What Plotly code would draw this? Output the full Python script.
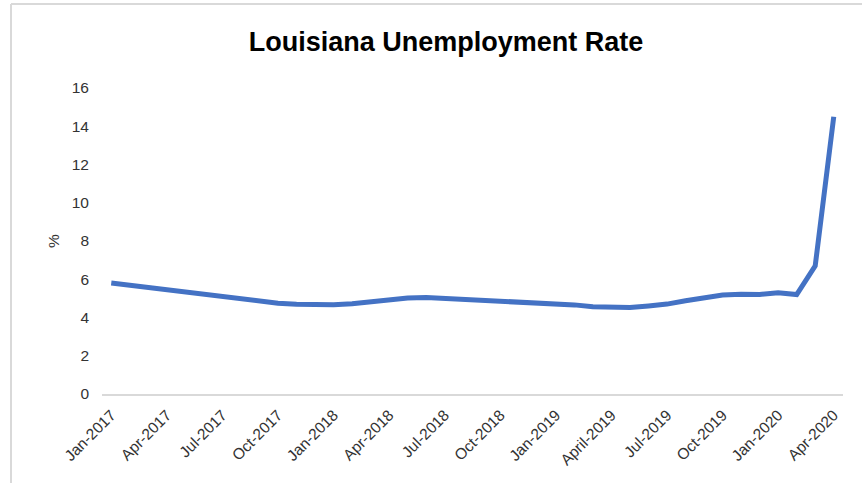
import plotly.graph_objects as go

months = []
for yr in (2017, 2018, 2019, 2020):
    for m in ["Jan", "Feb", "Mar", "Apr", "May", "Jun", "Jul", "Aug", "Sep", "Oct", "Nov", "Dec"]:
        months.append(f"{m}-{yr}")
months = months[:40]  # Jan-2017 .. Apr-2020

rate = [5.80, 5.68, 5.56, 5.44, 5.32, 5.20, 5.08, 4.95, 4.85, 4.75, 4.69, 4.66,
        4.67, 4.72, 4.82, 4.93, 5.02, 5.04, 5.00, 4.95, 4.92, 4.88, 4.84, 4.79,
        4.74, 4.66, 4.56, 4.51, 4.52, 4.60, 4.70, 4.88, 5.05, 5.18, 5.21, 5.20,
        5.30, 5.20, 6.70, 14.50]

tick_vals = months[::3]
tick_text = ["Jan-2017", "Apr-2017", "Jul-2017", "Oct-2017", "Jan-2018", "Apr-2018",
             "Jul-2018", "Oct-2018", "Jan-2019", "April-2019", "Jul-2019", "Oct-2019",
             "Jan-2020", "Apr-2020"]
y_ticks = [0, 2, 4, 6, 8, 10, 12, 14, 16]

W, H = 862, 483
L, R, T, B = 102, 19, 88, 89
pw, ph = W - L - R, H - T - B

def px_x(x):
    return (x - L) / pw

def px_y(y):
    return (H - B - y) / ph

fig = go.Figure()
fig.add_trace(go.Scatter(
    x=months, y=rate, mode="lines",
    line=dict(color="#4472C4", width=5),
    hoverinfo="x+y", showlegend=False,
))

border = "#d9d9d9"
fig.add_shape(type="line", xref="paper", yref="paper",
              x0=px_x(11), x1=px_x(870), y0=px_y(4), y1=px_y(4),
              line=dict(color=border, width=2))
fig.add_shape(type="line", xref="paper", yref="paper",
              x0=px_x(11), x1=px_x(11), y0=px_y(4), y1=px_y(490),
              line=dict(color=border, width=2))

fig.update_layout(
    width=W, height=H,
    margin=dict(l=L, r=R, t=T, b=B),
    paper_bgcolor="white", plot_bgcolor="white",
    font=dict(family="Liberation Sans, Arial, sans-serif", size=15, color="#333333"),
    title=dict(text="<b>Louisiana Unemployment Rate</b>",
               font=dict(size=27, color="#000000", family="Liberation Sans, Arial, sans-serif"),
               x=446 / W, xanchor="center", xref="container",
               y=1 - 42 / H, yanchor="middle", yref="container"),
    xaxis=dict(type="category", categoryorder="array", categoryarray=months,
               range=[-0.5, 39.5],
               tickmode="array", tickvals=tick_vals, ticktext=tick_text,
               tickangle=-45, showgrid=False, zeroline=False,
               showline=True, linecolor="#d9d9d9", linewidth=2,
               ticks="", ticklabelstandoff=4,
               tickfont=dict(size=15.5, color="#333333")),
    yaxis=dict(range=[0, 16], tickmode="array", tickvals=y_ticks,
               showgrid=False, zeroline=False, showline=False,
               ticks="", ticklabelstandoff=12,
               tickfont=dict(size=15.5, color="#333333"),
               title=dict(text="%", standoff=8, font=dict(size=15.5, color="#333333"))),
)

fig.write_html("out.html")
